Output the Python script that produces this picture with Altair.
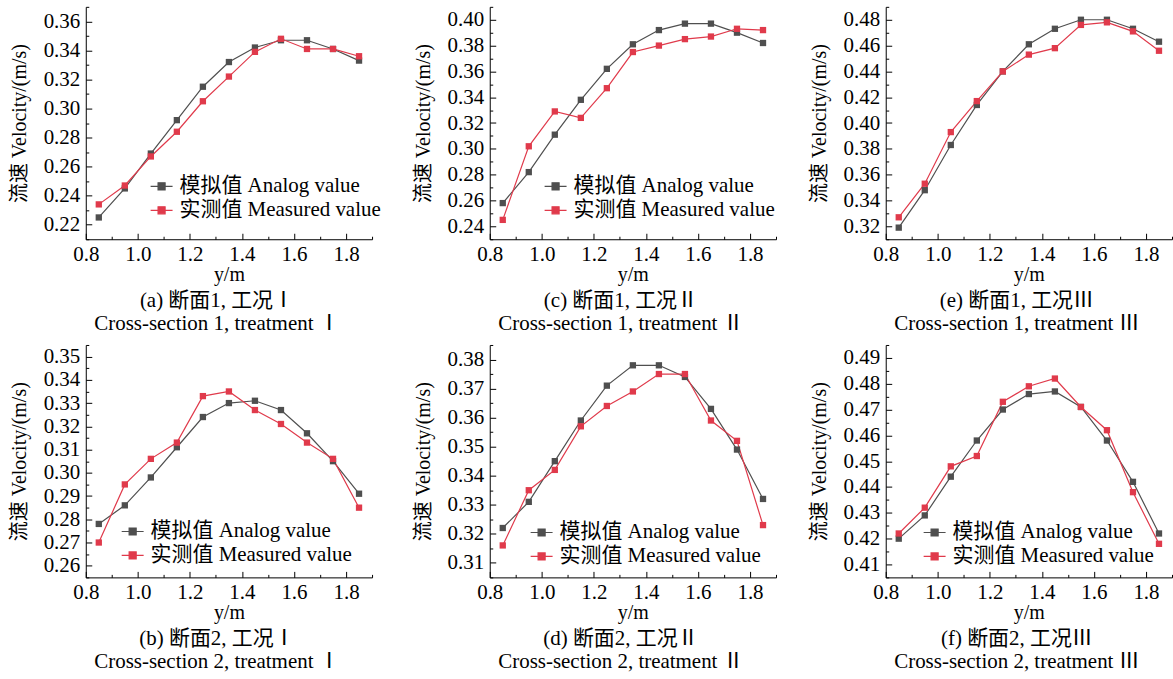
import altair as alt
import pandas as pd

FONT = "Liberation Serif, Noto Sans CJK SC"
GRAY = "#4f4f4f"
RED = "#e03a4b"
W, H = 287, 233

# measuring positions across the channel (m)
y_positions = [0.85, 0.95, 1.05, 1.15, 1.25, 1.35, 1.45, 1.55, 1.65, 1.75, 1.85]
series_names = ["模拟值 Analog value", "实测值 Measured value"]

# velocities (m/s): simulated vs measured
a_analog = [0.225, 0.245, 0.269, 0.292, 0.315, 0.332, 0.342, 0.347, 0.347, 0.341, 0.333]
a_measured = [0.234, 0.247, 0.267, 0.284, 0.305, 0.322, 0.339, 0.348, 0.341, 0.341, 0.336]
c_analog = [0.258, 0.282, 0.311, 0.338, 0.362, 0.381, 0.392, 0.397, 0.397, 0.390, 0.382]
c_measured = [0.245, 0.302, 0.329, 0.324, 0.347, 0.375, 0.380, 0.385, 0.387, 0.393, 0.392]
e_analog = [0.319, 0.348, 0.383, 0.414, 0.440, 0.461, 0.473, 0.480, 0.480, 0.473, 0.463]
e_measured = [0.327, 0.353, 0.393, 0.417, 0.440, 0.453, 0.458, 0.476, 0.478, 0.471, 0.456]
b_analog = [0.278, 0.286, 0.298, 0.311, 0.324, 0.330, 0.331, 0.327, 0.317, 0.305, 0.291]
b_measured = [0.270, 0.295, 0.306, 0.313, 0.333, 0.335, 0.327, 0.321, 0.313, 0.306, 0.285]
d_analog = [0.322, 0.331, 0.345, 0.359, 0.371, 0.378, 0.378, 0.374, 0.363, 0.349, 0.332]
d_measured = [0.316, 0.335, 0.342, 0.357, 0.364, 0.369, 0.375, 0.375, 0.359, 0.352, 0.323]
f_analog = [0.420, 0.429, 0.444, 0.458, 0.470, 0.476, 0.477, 0.471, 0.458, 0.442, 0.422]
f_measured = [0.422, 0.432, 0.448, 0.452, 0.473, 0.479, 0.482, 0.471, 0.462, 0.438, 0.418]

# axis tick values
x_major = [0.8, 1.0, 1.2, 1.4, 1.6, 1.8]
x_minor = [0.9, 1.1, 1.3, 1.5, 1.7, 1.9]
a_major = [0.22, 0.24, 0.26, 0.28, 0.30, 0.32, 0.34, 0.36]
a_minor = [0.21, 0.23, 0.25, 0.27, 0.29, 0.31, 0.33, 0.35, 0.37]
c_major = [0.24, 0.26, 0.28, 0.30, 0.32, 0.34, 0.36, 0.38, 0.40]
c_minor = [0.23, 0.25, 0.27, 0.29, 0.31, 0.33, 0.35, 0.37, 0.39, 0.41]
e_major = [0.32, 0.34, 0.36, 0.38, 0.40, 0.42, 0.44, 0.46, 0.48]
e_minor = [0.31, 0.33, 0.35, 0.37, 0.39, 0.41, 0.43, 0.45, 0.47, 0.49]
b_major = [0.26, 0.27, 0.28, 0.29, 0.30, 0.31, 0.32, 0.33, 0.34, 0.35]
b_minor = [0.255, 0.265, 0.275, 0.285, 0.295, 0.305, 0.315, 0.325, 0.335, 0.345, 0.355]
d_major = [0.31, 0.32, 0.33, 0.34, 0.35, 0.36, 0.37, 0.38]
d_minor = [0.305, 0.315, 0.325, 0.335, 0.345, 0.355, 0.365, 0.375, 0.385]
f_major = [0.41, 0.42, 0.43, 0.44, 0.45, 0.46, 0.47, 0.48, 0.49]
f_minor = [0.405, 0.415, 0.425, 0.435, 0.445, 0.455, 0.465, 0.475, 0.485, 0.495]

# legend key: short line with a filled square in the middle
KEY_PATH = "M-1,0H1M-0.32,-0.32H0.32V0.32H-0.32Z"
KEY_COLOR = {"expr": "datum.value == '实测值 Measured value' ? '%s' : '%s'" % (RED, GRAY)}


def panel(analog, measured, y_domain, y_major, y_minor, caption, subcaption, legend_at):
    df = pd.DataFrame({
        "y": y_positions * 2,
        "v": analog + measured,
        "series": [series_names[0]] * len(analog) + [series_names[1]] * len(measured),
    })
    xs = alt.Scale(domain=[0.8, 1.9], nice=False, zero=False)
    ys = alt.Scale(domain=y_domain, nice=False, zero=False)
    if legend_at:
        legend = alt.Legend(
            orient="none", legendX=legend_at[0], legendY=legend_at[1], title=None,
            symbolType=KEY_PATH, symbolSize=484, symbolStrokeWidth=1.2,
            symbolStrokeColor=KEY_COLOR, symbolFillColor=KEY_COLOR,
            labelOffset=6, rowPadding=2, labelFontSize=21, labelFont=FONT,
            labelColor="black", labelLimit=400,
        )
    else:
        legend = None
    color = alt.Color("series:N", scale=alt.Scale(domain=series_names, range=[GRAY, RED]),
                      legend=legend)
    base = alt.Chart(df)
    lines = base.mark_line(strokeWidth=1.2).encode(
        x=alt.X("y:Q", scale=xs, axis=alt.Axis(
            values=x_major, format=".1f", title="y/m", ticks=False, tickSize=0,
            labelPadding=4, titlePadding=0)),
        y=alt.Y("v:Q", scale=ys, axis=alt.Axis(
            values=y_major, format=".2f", title="流速 Velocity/(m/s)", ticks=False,
            tickSize=0, labelPadding=6, titlePadding=14)),
        color=color,
    )
    points = base.mark_point(shape="square", filled=True, size=40, opacity=1).encode(
        x=alt.X("y:Q", scale=xs, axis=None),
        y=alt.Y("v:Q", scale=ys, axis=None),
        color=color,
    )

    # inward ticks: tick-only axes placed on the opposite edges and shifted back
    def ticks(xv, yv, size):
        return base.mark_point(opacity=0).encode(
            x=alt.X("y:Q", scale=xs, axis=alt.Axis(
                orient="top", offset=-H, values=xv, labels=False, domain=False,
                tickSize=size, title=None)),
            y=alt.Y("v:Q", scale=ys, axis=alt.Axis(
                orient="right", offset=-W, values=yv, labels=False, domain=False,
                tickSize=size, title=None)),
        )

    return alt.layer(lines, points, ticks(x_major, y_major, 6), ticks(x_minor, y_minor, 3)).resolve_axis(
        x="independent", y="independent"
    ).properties(
        width=W, height=H,
        title=alt.TitleParams(
            text=caption, subtitle=subcaption, orient="bottom", anchor="middle",
            frame="group", dx=-12, offset=6, subtitlePadding=2,
            fontSize=21, subtitleFontSize=21, font=FONT, subtitleFont=FONT,
            fontWeight="normal", color="black", subtitleColor="black",
        ),
    )


pa = panel(a_analog, a_measured, [0.21, 0.37], a_major, a_minor,
           "(a) 断面1, 工况Ⅰ", "Cross-section 1, treatment Ⅰ", (64, 168))
pc = panel(c_analog, c_measured, [0.23, 0.41], c_major, c_minor,
           "(c) 断面1, 工况Ⅱ", "Cross-section 1, treatment Ⅱ", (54, 168))
pe = panel(e_analog, e_measured, [0.31, 0.49], e_major, e_minor,
           "(e) 断面1, 工况Ⅲ", "Cross-section 1, treatment Ⅲ", None)
pb = panel(b_analog, b_measured, [0.255, 0.355], b_major, b_minor,
           "(b) 断面2, 工况Ⅰ", "Cross-section 2, treatment Ⅰ", (35, 175))
pd_ = panel(d_analog, d_measured, [0.305, 0.385], d_major, d_minor,
            "(d) 断面2, 工况Ⅱ", "Cross-section 2, treatment Ⅱ", (40, 176))
pf = panel(f_analog, f_measured, [0.405, 0.495], f_major, f_minor,
           "(f) 断面2, 工况Ⅲ", "Cross-section 2, treatment Ⅲ", (37, 176))

chart = alt.concat(pa, pc, pe, pb, pd_, pf, columns=3, spacing={"row": 10, "column": 32}).resolve_scale(
    color="independent"
).configure(
    font=FONT, padding={"left": 9, "top": 5, "right": 0, "bottom": 0}
).configure_axis(
    labelFont=FONT, titleFont=FONT, labelFontSize=21, titleFontSize=20,
    titleFontWeight="normal", labelColor="black", titleColor="black",
    domainColor="black", tickColor="black", domainWidth=1, tickWidth=1,
    grid=False, labelFlush=False, labelOverlap=False,
).configure_view(stroke=None)

chart.save("out.html", embed_options={"renderer": "svg", "actions": False})
